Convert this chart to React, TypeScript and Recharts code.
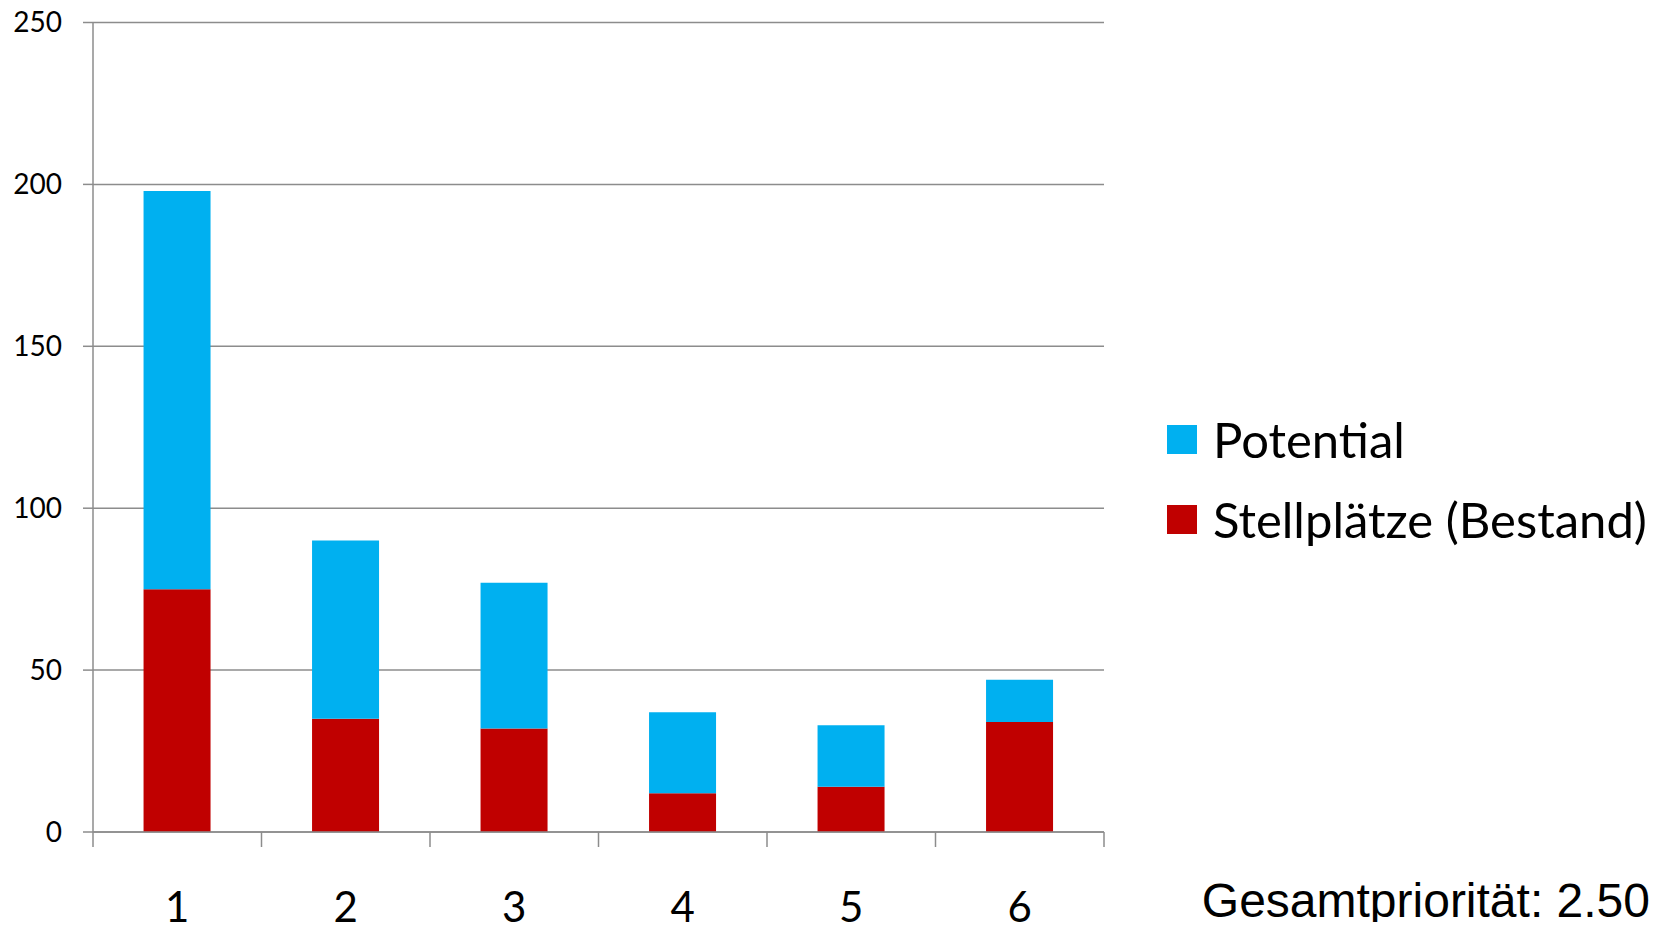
import { Bar, BarChart, CartesianGrid, Legend, XAxis, YAxis } from "recharts";

const CATEGORIES = ["1", "2", "3", "4", "5", "6"];
const STELLPLAETZE = [75, 35, 32, 12, 14, 34];
const POTENTIAL = [123, 55, 45, 25, 19, 13];
const Y_TICKS = [0, 50, 100, 150, 200, 250];

const SERIES = [
  { key: "bestand", label: "Stellplätze (Bestand)", color: "#c00000" },
  { key: "potential", label: "Potential", color: "#00b0f0" },
] as const;

const AXIS_GRAY = "#8c8c8c";
const LABEL_OFFSET = 60;

const data = CATEGORIES.map((name, i) => ({
  name,
  pos: i + 0.5,
  bestand: STELLPLAETZE[i],
  potential: POTENTIAL[i],
}));

// boundaries (integers) get a tick mark, centres (halves) get the label
const EDGE_TICKS = Array.from({ length: CATEGORIES.length * 2 + 1 }, (_, i) => i / 2);

function EdgeTick(props: any) {
  const { x, y, payload } = props;
  const v = payload.value as number;
  if (Number.isInteger(v)) {
    return <line x1={x} x2={x} y1={y - LABEL_OFFSET} y2={y - LABEL_OFFSET + 15} stroke={AXIS_GRAY} strokeWidth={1.5} />;
  }
  return (
    <text x={x} y={y} dy="0.71em" textAnchor="middle" fontSize={42} fontFamily="Lato" fill="#000">
      {CATEGORIES[Math.floor(v)]}
    </text>
  );
}

function LegendContent() {
  // Excel lists stacked series top-down, so reverse the stack order
  return (
    <div style={{ fontFamily: "Lato", fontSize: 49, color: "#000" }}>
      {[...SERIES].reverse().map((s) => (
        <div key={s.key} style={{ display: "flex", alignItems: "center", height: 80 }}>
          <span style={{ width: 30, height: 29, background: s.color, marginRight: 16, flex: "none" }} />
          <span style={{ lineHeight: 1, whiteSpace: "nowrap" }}>{s.label}</span>
        </div>
      ))}
    </div>
  );
}

export default function App() {
  return (
    <div style={{ position: "relative", width: 1645, height: 914, fontFamily: "Lato" }}>
      <style>{".recharts-surface { overflow: visible; }"}</style>
      <BarChart
        width={1645}
        height={914}
        data={data}
        margin={{ top: 14.5, right: 549, left: 0, bottom: 0 }}
        barCategoryGap="30%"
      >
        <CartesianGrid vertical={false} xAxisId="cat" stroke={AXIS_GRAY} strokeWidth={1.5} />
        <XAxis xAxisId="cat" dataKey="name" hide height={0} />
        <XAxis
          xAxisId="edges"
          dataKey="pos"
          type="number"
          domain={[0, CATEGORIES.length]}
          ticks={EDGE_TICKS}
          interval={0}
          allowDataOverflow
          height={90}
          tickSize={0}
          tickMargin={LABEL_OFFSET}
          tickLine={false}
          axisLine={{ stroke: AXIS_GRAY, strokeWidth: 1.5 }}
          tick={<EdgeTick />}
        />
        <YAxis
          domain={[0, 250]}
          ticks={Y_TICKS}
          interval={0}
          width={85}
          tickSize={10}
          tickMargin={21}
          axisLine={{ stroke: AXIS_GRAY, strokeWidth: 1.5 }}
          tickLine={{ stroke: AXIS_GRAY, strokeWidth: 1.5 }}
          tick={{ fontSize: 28, fontFamily: "Lato", fill: "#000" }}
        />
        <Legend
          layout="vertical"
          align="center"
          verticalAlign="middle"
          wrapperStyle={{ left: 1159, top: 391.5, width: 480, height: 160 }}
          content={<LegendContent />}
        />
        {SERIES.map((s) => (
          <Bar
            key={s.key}
            xAxisId="cat"
            dataKey={s.key}
            name={s.label}
            stackId="a"
            fill={s.color}
            isAnimationActive={false}
          />
        ))}
      </BarChart>
      <div
        style={{
          position: "absolute",
          right: 3,
          top: 869,
          fontFamily: "'Liberation Sans', Arial, sans-serif",
          fontSize: 48,
          lineHeight: 1,
          whiteSpace: "nowrap",
        }}
      >
        Gesamtpriorität: 2.50
      </div>
    </div>
  );
}
